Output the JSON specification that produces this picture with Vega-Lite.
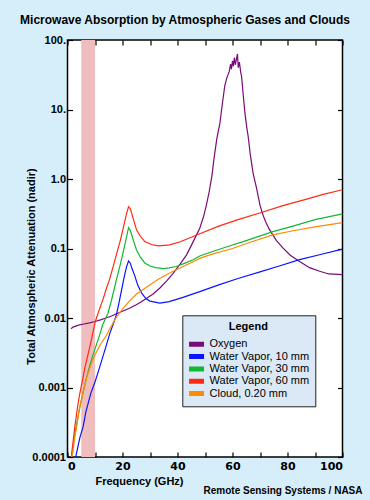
{
  "$schema": "https://vega.github.io/schema/vega-lite/v6.json",
  "width": 275,
  "height": 417,
  "autosize": {"type": "none"},
  "padding": {"left": 67.5, "top": 40, "right": 27.5, "bottom": 43},
  "background": "#d6eef9",
  "title": {"text": "Microwave Absorption by Atmospheric Gases and Clouds", "font": "Liberation Sans", "fontSize": 12, "fontWeight": "bold", "color": "#000000", "anchor": "middle", "frame": "group", "dx": -20, "offset": 7},
  "config": {
    "view": {"fill": "white", "stroke": "black", "strokeWidth": 1.5},
    "axis": {"grid": false, "domain": false, "tickColor": "black", "tickWidth": 1.2, "labelColor": "black", "titleColor": "black"}
  },
  "resolve": {"axis": {"x": "independent", "y": "independent"}},
  "layer": [
    {
      "data": {"values": [{"start": 5, "end": 10}]},
      "mark": {"type": "rect", "color": "#efbdbd"},
      "encoding": {
        "x": {"field": "start", "type": "quantitative", "scale": {"domain": [0, 100], "nice": false, "zero": false},
          "axis": {"orient": "top", "labels": false, "title": null, "tickSize": -5, "values": [0, 10, 20, 30, 40, 50, 60, 70, 80, 90, 100]}},
        "x2": {"field": "end"},
        "y": {"datum": 0.0001, "type": "quantitative", "scale": {"type": "log", "domain": [0.0001, 100], "nice": false},
          "axis": {"orient": "right", "labels": false, "title": null, "tickSize": -5, "values": [0.0001, 0.001, 0.01, 0.1, 1, 10, 100]}},
        "y2": {"datum": 100}
      }
    },
    {
      "data": {"values": [
        {"f": 1.3, "a": 0.0070, "s": "Oxygen"}, {"f": 2, "a": 0.0074, "s": "Oxygen"}, {"f": 4, "a": 0.0079, "s": "Oxygen"}, {"f": 6, "a": 0.0082, "s": "Oxygen"}, {"f": 8, "a": 0.0085, "s": "Oxygen"}, {"f": 10, "a": 0.0089, "s": "Oxygen"}, {"f": 12, "a": 0.0094, "s": "Oxygen"}, {"f": 14, "a": 0.0100, "s": "Oxygen"}, {"f": 16, "a": 0.0107, "s": "Oxygen"}, {"f": 18, "a": 0.0116, "s": "Oxygen"}, {"f": 20, "a": 0.0125, "s": "Oxygen"}, {"f": 22.7, "a": 0.0139, "s": "Oxygen"}, {"f": 25, "a": 0.0155, "s": "Oxygen"}, {"f": 27, "a": 0.0173, "s": "Oxygen"}, {"f": 28.8, "a": 0.0193, "s": "Oxygen"}, {"f": 31, "a": 0.022, "s": "Oxygen"}, {"f": 33.6, "a": 0.027, "s": "Oxygen"}, {"f": 36, "a": 0.034, "s": "Oxygen"}, {"f": 38.4, "a": 0.044, "s": "Oxygen"}, {"f": 41, "a": 0.060, "s": "Oxygen"}, {"f": 43.3, "a": 0.081, "s": "Oxygen"}, {"f": 45, "a": 0.110, "s": "Oxygen"}, {"f": 46.9, "a": 0.157, "s": "Oxygen"}, {"f": 48.1, "a": 0.196, "s": "Oxygen"}, {"f": 49.5, "a": 0.29, "s": "Oxygen"}, {"f": 50.5, "a": 0.42, "s": "Oxygen"}, {"f": 51.5, "a": 0.65, "s": "Oxygen"}, {"f": 52.5, "a": 1.1, "s": "Oxygen"}, {"f": 53.3, "a": 2.0, "s": "Oxygen"}, {"f": 54.3, "a": 3.8, "s": "Oxygen"}, {"f": 55.4, "a": 6.3, "s": "Oxygen"}, {"f": 56.3, "a": 12, "s": "Oxygen"}, {"f": 57.2, "a": 22, "s": "Oxygen"}, {"f": 58, "a": 29, "s": "Oxygen"}, {"f": 58.8, "a": 35, "s": "Oxygen"}, {"f": 59.3, "a": 45, "s": "Oxygen"}, {"f": 59.6, "a": 38, "s": "Oxygen"}, {"f": 60, "a": 50, "s": "Oxygen"}, {"f": 60.3, "a": 42, "s": "Oxygen"}, {"f": 60.7, "a": 56, "s": "Oxygen"}, {"f": 61, "a": 44, "s": "Oxygen"}, {"f": 61.4, "a": 52, "s": "Oxygen"}, {"f": 61.8, "a": 63, "s": "Oxygen"}, {"f": 62.1, "a": 40, "s": "Oxygen"}, {"f": 62.5, "a": 48, "s": "Oxygen"}, {"f": 63, "a": 34, "s": "Oxygen"}, {"f": 63.3, "a": 30, "s": "Oxygen"}, {"f": 63.8, "a": 18, "s": "Oxygen"}, {"f": 64.5, "a": 9, "s": "Oxygen"}, {"f": 65.2, "a": 5.5, "s": "Oxygen"}, {"f": 65.7, "a": 4.1, "s": "Oxygen"}, {"f": 66.5, "a": 2.2, "s": "Oxygen"}, {"f": 67.5, "a": 1.2, "s": "Oxygen"}, {"f": 68.7, "a": 0.75, "s": "Oxygen"}, {"f": 70, "a": 0.42, "s": "Oxygen"}, {"f": 71, "a": 0.31, "s": "Oxygen"}, {"f": 72, "a": 0.245, "s": "Oxygen"}, {"f": 73.5, "a": 0.185, "s": "Oxygen"}, {"f": 76, "a": 0.13, "s": "Oxygen"}, {"f": 78.4, "a": 0.101, "s": "Oxygen"}, {"f": 81, "a": 0.08, "s": "Oxygen"}, {"f": 84.4, "a": 0.065, "s": "Oxygen"}, {"f": 88, "a": 0.053, "s": "Oxygen"}, {"f": 91.7, "a": 0.047, "s": "Oxygen"}, {"f": 95, "a": 0.043, "s": "Oxygen"}, {"f": 100, "a": 0.042, "s": "Oxygen"},

        {"f": 3.0, "a": 0.0001, "s": "Water Vapor, 10 mm"}, {"f": 3.3, "a": 0.000115, "s": "Water Vapor, 10 mm"}, {"f": 4.5, "a": 0.00019, "s": "Water Vapor, 10 mm"}, {"f": 5.7, "a": 0.000275, "s": "Water Vapor, 10 mm"}, {"f": 6.7, "a": 0.00045, "s": "Water Vapor, 10 mm"}, {"f": 8.5, "a": 0.00083, "s": "Water Vapor, 10 mm"}, {"f": 10, "a": 0.0012, "s": "Water Vapor, 10 mm"}, {"f": 11, "a": 0.0016, "s": "Water Vapor, 10 mm"}, {"f": 12.5, "a": 0.0025, "s": "Water Vapor, 10 mm"}, {"f": 14, "a": 0.0039, "s": "Water Vapor, 10 mm"}, {"f": 15.4, "a": 0.006, "s": "Water Vapor, 10 mm"}, {"f": 16.5, "a": 0.0079, "s": "Water Vapor, 10 mm"}, {"f": 17.6, "a": 0.0105, "s": "Water Vapor, 10 mm"}, {"f": 18.5, "a": 0.015, "s": "Water Vapor, 10 mm"}, {"f": 19.8, "a": 0.027, "s": "Water Vapor, 10 mm"}, {"f": 20.8, "a": 0.042, "s": "Water Vapor, 10 mm"}, {"f": 21.5, "a": 0.055, "s": "Water Vapor, 10 mm"}, {"f": 22.2, "a": 0.066, "s": "Water Vapor, 10 mm"}, {"f": 22.8, "a": 0.062, "s": "Water Vapor, 10 mm"}, {"f": 23.5, "a": 0.051, "s": "Water Vapor, 10 mm"}, {"f": 24.5, "a": 0.04, "s": "Water Vapor, 10 mm"}, {"f": 25.5, "a": 0.03, "s": "Water Vapor, 10 mm"}, {"f": 26.9, "a": 0.023, "s": "Water Vapor, 10 mm"}, {"f": 28.5, "a": 0.019, "s": "Water Vapor, 10 mm"}, {"f": 30, "a": 0.0175, "s": "Water Vapor, 10 mm"}, {"f": 33.6, "a": 0.0164, "s": "Water Vapor, 10 mm"}, {"f": 37, "a": 0.0172, "s": "Water Vapor, 10 mm"}, {"f": 42, "a": 0.0198, "s": "Water Vapor, 10 mm"}, {"f": 48.1, "a": 0.024, "s": "Water Vapor, 10 mm"}, {"f": 55, "a": 0.030, "s": "Water Vapor, 10 mm"}, {"f": 62, "a": 0.037, "s": "Water Vapor, 10 mm"}, {"f": 70, "a": 0.046, "s": "Water Vapor, 10 mm"}, {"f": 77, "a": 0.056, "s": "Water Vapor, 10 mm"}, {"f": 84.4, "a": 0.069, "s": "Water Vapor, 10 mm"}, {"f": 92, "a": 0.082, "s": "Water Vapor, 10 mm"}, {"f": 100, "a": 0.098, "s": "Water Vapor, 10 mm"},

        {"f": 1.5, "a": 0.0001, "s": "Water Vapor, 30 mm"}, {"f": 1.9, "a": 0.000127, "s": "Water Vapor, 30 mm"}, {"f": 2.7, "a": 0.00022, "s": "Water Vapor, 30 mm"}, {"f": 3.7, "a": 0.00036, "s": "Water Vapor, 30 mm"}, {"f": 4.9, "a": 0.00062, "s": "Water Vapor, 30 mm"}, {"f": 6.7, "a": 0.0013, "s": "Water Vapor, 30 mm"}, {"f": 8, "a": 0.002, "s": "Water Vapor, 30 mm"}, {"f": 9.1, "a": 0.0028, "s": "Water Vapor, 30 mm"}, {"f": 10.3, "a": 0.0039, "s": "Water Vapor, 30 mm"}, {"f": 11.5, "a": 0.0054, "s": "Water Vapor, 30 mm"}, {"f": 12.8, "a": 0.008, "s": "Water Vapor, 30 mm"}, {"f": 14.7, "a": 0.0117, "s": "Water Vapor, 30 mm"}, {"f": 16, "a": 0.018, "s": "Water Vapor, 30 mm"}, {"f": 17.6, "a": 0.033, "s": "Water Vapor, 30 mm"}, {"f": 19, "a": 0.055, "s": "Water Vapor, 30 mm"}, {"f": 20.3, "a": 0.09, "s": "Water Vapor, 30 mm"}, {"f": 21.5, "a": 0.148, "s": "Water Vapor, 30 mm"}, {"f": 22.2, "a": 0.2, "s": "Water Vapor, 30 mm"}, {"f": 22.9, "a": 0.18, "s": "Water Vapor, 30 mm"}, {"f": 24, "a": 0.13, "s": "Water Vapor, 30 mm"}, {"f": 25.1, "a": 0.095, "s": "Water Vapor, 30 mm"}, {"f": 26.5, "a": 0.075, "s": "Water Vapor, 30 mm"}, {"f": 28.1, "a": 0.062, "s": "Water Vapor, 30 mm"}, {"f": 30, "a": 0.056, "s": "Water Vapor, 30 mm"}, {"f": 32, "a": 0.053, "s": "Water Vapor, 30 mm"}, {"f": 34.8, "a": 0.0515, "s": "Water Vapor, 30 mm"}, {"f": 37, "a": 0.0525, "s": "Water Vapor, 30 mm"}, {"f": 39.6, "a": 0.055, "s": "Water Vapor, 30 mm"}, {"f": 42.5, "a": 0.061, "s": "Water Vapor, 30 mm"}, {"f": 45.7, "a": 0.069, "s": "Water Vapor, 30 mm"}, {"f": 48.1, "a": 0.078, "s": "Water Vapor, 30 mm"}, {"f": 51.7, "a": 0.0875, "s": "Water Vapor, 30 mm"}, {"f": 58, "a": 0.106, "s": "Water Vapor, 30 mm"}, {"f": 65, "a": 0.13, "s": "Water Vapor, 30 mm"}, {"f": 74.7, "a": 0.175, "s": "Water Vapor, 30 mm"}, {"f": 82, "a": 0.21, "s": "Water Vapor, 30 mm"}, {"f": 90, "a": 0.26, "s": "Water Vapor, 30 mm"}, {"f": 100, "a": 0.315, "s": "Water Vapor, 30 mm"},

        {"f": 1.4, "a": 0.0001, "s": "Water Vapor, 60 mm"}, {"f": 1.6, "a": 0.00012, "s": "Water Vapor, 60 mm"}, {"f": 2.7, "a": 0.00028, "s": "Water Vapor, 60 mm"}, {"f": 3.7, "a": 0.00054, "s": "Water Vapor, 60 mm"}, {"f": 4.5, "a": 0.00083, "s": "Water Vapor, 60 mm"}, {"f": 5.5, "a": 0.0013, "s": "Water Vapor, 60 mm"}, {"f": 6.3, "a": 0.0019, "s": "Water Vapor, 60 mm"}, {"f": 7.3, "a": 0.0028, "s": "Water Vapor, 60 mm"}, {"f": 8.5, "a": 0.0045, "s": "Water Vapor, 60 mm"}, {"f": 10.1, "a": 0.0089, "s": "Water Vapor, 60 mm"}, {"f": 11.5, "a": 0.013, "s": "Water Vapor, 60 mm"}, {"f": 13, "a": 0.019, "s": "Water Vapor, 60 mm"}, {"f": 14.2, "a": 0.027, "s": "Water Vapor, 60 mm"}, {"f": 15.3, "a": 0.036, "s": "Water Vapor, 60 mm"}, {"f": 16.6, "a": 0.055, "s": "Water Vapor, 60 mm"}, {"f": 17.9, "a": 0.085, "s": "Water Vapor, 60 mm"}, {"f": 19.2, "a": 0.13, "s": "Water Vapor, 60 mm"}, {"f": 20.3, "a": 0.2, "s": "Water Vapor, 60 mm"}, {"f": 21.5, "a": 0.32, "s": "Water Vapor, 60 mm"}, {"f": 22.2, "a": 0.40, "s": "Water Vapor, 60 mm"}, {"f": 22.9, "a": 0.37, "s": "Water Vapor, 60 mm"}, {"f": 24, "a": 0.26, "s": "Water Vapor, 60 mm"}, {"f": 25.1, "a": 0.186, "s": "Water Vapor, 60 mm"}, {"f": 26.5, "a": 0.15, "s": "Water Vapor, 60 mm"}, {"f": 28.1, "a": 0.126, "s": "Water Vapor, 60 mm"}, {"f": 30.5, "a": 0.114, "s": "Water Vapor, 60 mm"}, {"f": 33, "a": 0.109, "s": "Water Vapor, 60 mm"}, {"f": 37.2, "a": 0.113, "s": "Water Vapor, 60 mm"}, {"f": 41, "a": 0.125, "s": "Water Vapor, 60 mm"}, {"f": 45.7, "a": 0.149, "s": "Water Vapor, 60 mm"}, {"f": 48.1, "a": 0.163, "s": "Water Vapor, 60 mm"}, {"f": 55, "a": 0.21, "s": "Water Vapor, 60 mm"}, {"f": 62, "a": 0.26, "s": "Water Vapor, 60 mm"}, {"f": 70.5, "a": 0.33, "s": "Water Vapor, 60 mm"}, {"f": 78, "a": 0.41, "s": "Water Vapor, 60 mm"}, {"f": 86, "a": 0.5, "s": "Water Vapor, 60 mm"}, {"f": 93, "a": 0.6, "s": "Water Vapor, 60 mm"}, {"f": 100, "a": 0.70, "s": "Water Vapor, 60 mm"},

        {"f": 1.5, "a": 0.0001, "s": "Cloud, 0.20 mm"}, {"f": 1.9, "a": 0.000115, "s": "Cloud, 0.20 mm"}, {"f": 2.7, "a": 0.0002, "s": "Cloud, 0.20 mm"}, {"f": 3.5, "a": 0.0003, "s": "Cloud, 0.20 mm"}, {"f": 4.3, "a": 0.0005, "s": "Cloud, 0.20 mm"}, {"f": 5.2, "a": 0.0007, "s": "Cloud, 0.20 mm"}, {"f": 6.1, "a": 0.001, "s": "Cloud, 0.20 mm"}, {"f": 7, "a": 0.0014, "s": "Cloud, 0.20 mm"}, {"f": 7.9, "a": 0.0018, "s": "Cloud, 0.20 mm"}, {"f": 9, "a": 0.0024, "s": "Cloud, 0.20 mm"}, {"f": 10.3, "a": 0.0031, "s": "Cloud, 0.20 mm"}, {"f": 12, "a": 0.0042, "s": "Cloud, 0.20 mm"}, {"f": 14, "a": 0.0055, "s": "Cloud, 0.20 mm"}, {"f": 15.8, "a": 0.0075, "s": "Cloud, 0.20 mm"}, {"f": 17.6, "a": 0.01, "s": "Cloud, 0.20 mm"}, {"f": 20, "a": 0.0135, "s": "Cloud, 0.20 mm"}, {"f": 22.5, "a": 0.0175, "s": "Cloud, 0.20 mm"}, {"f": 25, "a": 0.022, "s": "Cloud, 0.20 mm"}, {"f": 28.8, "a": 0.028, "s": "Cloud, 0.20 mm"}, {"f": 33, "a": 0.036, "s": "Cloud, 0.20 mm"}, {"f": 38.4, "a": 0.047, "s": "Cloud, 0.20 mm"}, {"f": 44, "a": 0.06, "s": "Cloud, 0.20 mm"}, {"f": 48.1, "a": 0.072, "s": "Cloud, 0.20 mm"}, {"f": 51.7, "a": 0.081, "s": "Cloud, 0.20 mm"}, {"f": 60, "a": 0.1, "s": "Cloud, 0.20 mm"}, {"f": 67, "a": 0.125, "s": "Cloud, 0.20 mm"}, {"f": 74.7, "a": 0.157, "s": "Cloud, 0.20 mm"}, {"f": 82, "a": 0.18, "s": "Cloud, 0.20 mm"}, {"f": 90, "a": 0.205, "s": "Cloud, 0.20 mm"}, {"f": 100, "a": 0.236, "s": "Cloud, 0.20 mm"}
      ]},
      "mark": {"type": "line", "strokeWidth": 1.2, "clip": true},
      "encoding": {
        "x": {"field": "f", "type": "quantitative", "scale": {"domain": [0, 100], "nice": false, "zero": false},
          "axis": {"orient": "bottom", "values": [0, 10, 20, 30, 40, 50, 60, 70, 80, 90, 100], "tickSize": -5, "labelFont": "DejaVu Sans", "labelFontWeight": "bold", "labelFontSize": 11, "labelPadding": 8,
            "title": "Frequency (GHz)", "titleFont": "Liberation Sans", "titleFontSize": 11, "titleFontWeight": "bold", "titleX": 27.5, "titleY": 24, "titleAlign": "left", "titleBaseline": "middle"}},
        "y": {"field": "a", "type": "quantitative", "scale": {"type": "log", "domain": [0.0001, 100], "nice": false},
          "axis": {"orient": "left", "values": [0.0001, 0.001, 0.01, 0.1, 1, 10, 100], "tickSize": -5, "labelFont": "Liberation Sans", "labelFontWeight": "bold", "labelFontSize": 11, "labelPadding": 7,
            "labelExpr": "datum.value >= 99 ? '100.' : datum.value >= 9 ? '10.' : datum.value >= 0.9 ? '1.0' : datum.value >= 0.09 ? '0.1' : datum.value >= 0.009 ? '0.01' : datum.value >= 0.0009 ? '0.001' : '0.0001'",
            "title": "Total Atmospheric Attenuation (nadir)", "titleFont": "Liberation Sans", "titleFontSize": 11, "titleFontWeight": "bold", "titleX": -36, "titleY": 226, "titleBaseline": "middle", "titleAlign": "center"}},
        "color": {"field": "s", "type": "nominal",
          "scale": {"domain": ["Oxygen", "Water Vapor, 10 mm", "Water Vapor, 30 mm", "Water Vapor, 60 mm", "Cloud, 0.20 mm"], "range": ["#7a0a7a", "#0a14ff", "#12b832", "#ff2a14", "#ff8a00"]},
          "legend": {"orient": "none", "legendX": 114.8, "legendY": 275.3, "title": "Legend", "titleAnchor": "middle", "titleFont": "Liberation Sans", "titleFontSize": 11, "titleFontWeight": "bold", "titleColor": "black", "titlePadding": 6,
            "labelFont": "Liberation Sans", "labelFontSize": 11, "labelColor": "black", "labelOffset": 6.5, "fillColor": "#dbe8f5", "strokeColor": "#222222", "padding": 6,
            "symbolType": "M-2,0H2", "symbolSize": 56.25, "symbolStrokeWidth": 5, "symbolOffset": 1.75, "clipHeight": 12, "rowPadding": 0.3}}
      }
    },
    {
      "data": {"values": [{"t": "Remote Sensing Systems / NASA"}]},
      "mark": {"type": "text", "align": "right", "baseline": "middle", "dx": 20, "dy": 33.7, "font": "Liberation Sans", "fontSize": 10, "fontWeight": "bold", "color": "black"},
      "encoding": {
        "x": {"datum": 100, "type": "quantitative", "axis": null, "scale": {"domain": [0, 100], "nice": false, "zero": false}},
        "y": {"datum": 0.0001, "type": "quantitative", "axis": null, "scale": {"type": "log", "domain": [0.0001, 100], "nice": false}},
        "text": {"field": "t"}
      }
    }
  ]
}
